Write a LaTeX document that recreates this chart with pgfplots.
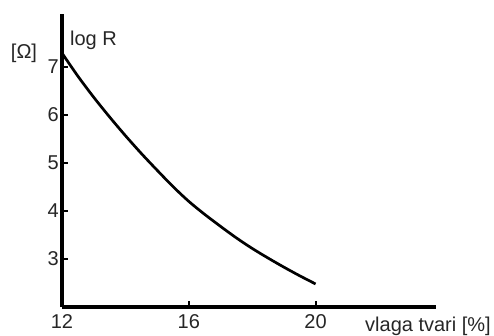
\documentclass[border=0pt]{standalone}
\usepackage{fontspec}
\setmainfont{Liberation Sans}
\usepackage{pgfplots}
\pgfplotsset{compat=1.18}
\begin{document}
\begin{tikzpicture}
\useasboundingbox (-62pt,-29pt) rectangle (432pt,307pt);
\begin{axis}[
  at={(0,0)}, anchor=south west,
  x=31.7pt, y=48pt,
  xmin=12, xmax=23.8, ymin=2, ymax=8.1,
  axis lines=left,
  axis line style={-, line width=3.4pt},
  xtick={12,16,20}, ytick={3,4,5,6,7},
  tick align=inside,
  major tick length=6pt,
  tick style={line width=2.2pt, black},
  /pgf/number format/assume math mode=true,
  every tick label/.append style={font=\fontsize{20}{24}\selectfont, text=black!85},
  xticklabel style={inner sep=2pt, yshift=-5pt},
  yticklabel style={inner sep=2pt, xshift=-1pt},
  clip=false,
]
\addplot[black, line width=2.7pt, smooth] coordinates {
  (12,7.29) (12.5,6.81) (13,6.37) (13.5,5.96) (14,5.57) (14.5,5.20)
  (15,4.85) (15.5,4.51) (16,4.20) (16.5,3.93) (17,3.68) (17.5,3.44)
  (18,3.22) (18.5,3.02) (19,2.83) (19.5,2.65) (20,2.48)
};
\node[anchor=west, inner sep=0pt, font=\fontsize{20}{24}\selectfont, text=black!85] at (axis cs:12.25,7.56) {log R};
\end{axis}
\node[anchor=center, inner sep=0pt, font=\fontsize{20}{24}\selectfont, text=black!85] at (-38pt,254pt) {[Ω]};
\node[anchor=base west, inner sep=0pt, font=\fontsize{20}{24}\selectfont, text=black!85] at (303pt,-25pt) {vlaga tvari [\%]};
\end{tikzpicture}
\end{document}
